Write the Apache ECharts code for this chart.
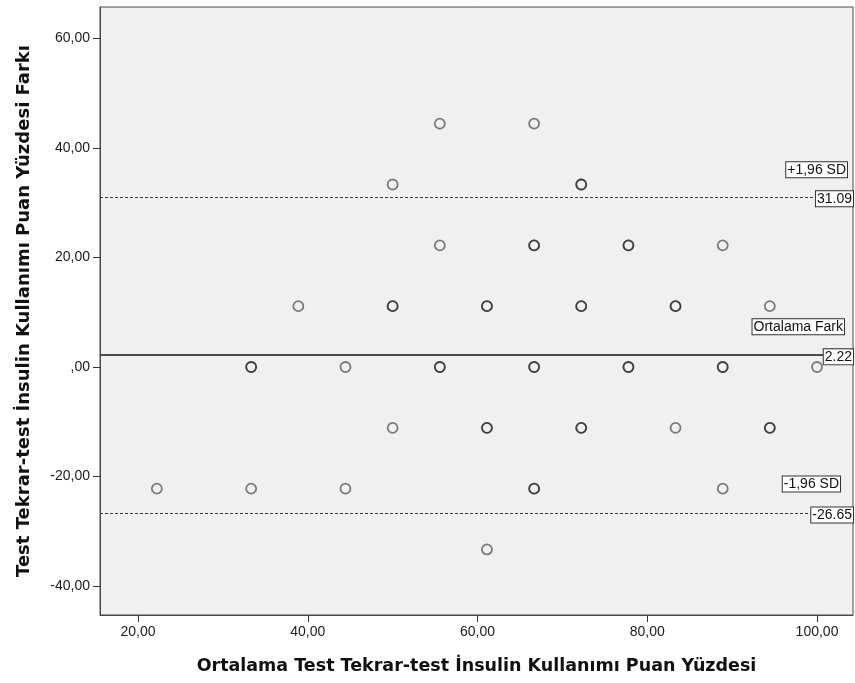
<!DOCTYPE html>
<html>
<head>
<meta charset="utf-8">
<script src="https://cdn.jsdelivr.net/npm/echarts@6/dist/echarts.min.js"></script>
<style>
html,body{margin:0;padding:0;background:#fff;}
#c{width:855px;height:683px;}
</style>
</head>
<body>
<div id="c"></div>
<script>
// Ortalama (x) and Fark (y) values; points drawn twice are the darker (overlapping) ones
const meanVals = [55.56, 66.67,
  50.00, 72.22, 72.22,
  55.56, 66.67, 66.67, 77.78, 77.78, 88.89,
  38.89, 50.00, 50.00, 61.11, 61.11, 72.22, 72.22, 83.33, 83.33, 94.44,
  33.33, 33.33, 44.44, 55.56, 55.56, 66.67, 66.67, 77.78, 77.78, 88.89, 88.89, 100.00,
  50.00, 61.11, 61.11, 72.22, 72.22, 83.33, 94.44, 94.44,
  22.22, 33.33, 44.44, 66.67, 66.67, 88.89,
  61.11];
const diffVals = [44.44, 44.44,
  33.33, 33.33, 33.33,
  22.22, 22.22, 22.22, 22.22, 22.22, 22.22,
  11.11, 11.11, 11.11, 11.11, 11.11, 11.11, 11.11, 11.11, 11.11, 11.11,
  0, 0, 0, 0, 0, 0, 0, 0, 0, 0, 0, 0,
  -11.11, -11.11, -11.11, -11.11, -11.11, -11.11, -11.11, -11.11,
  -22.22, -22.22, -22.22, -22.22, -22.22, -22.22,
  -33.33];
const xTicks = [20, 40, 60, 80, 100];
const yTicks = [-40, -20, 0, 20, 40, 60];
const meanDiff = 2.22;
const upperLoA = 31.09;
const lowerLoA = -26.65;
const lineNames = ['+1,96 SD', 'Ortalama Fark', '-1,96 SD'];
const lineValueTexts = ['31.09', '2.22', '-26.65'];

const fmt = v => v === 0 ? ',00' : v.toFixed(2).replace('.', ',');
const pts = meanVals.map((x, i) => [x, diffVals[i]]);

const chart = echarts.init(document.getElementById('c'), null, {renderer: 'canvas'});
const tickFont = {fontFamily: 'Liberation Sans, Arial, sans-serif', fontSize: 14, color: '#1a1a1a'};
chart.setOption({
  animation: false,
  backgroundColor: '#ffffff',
  grid: {left: 100, right: 2, top: 7, bottom: 68, show: true,
         backgroundColor: '#f0f0f0', borderColor: '#4a4a4a', borderWidth: 1},
  xAxis: {
    type: 'value', min: 15.52, max: 104.24,
    name: 'Ortalama Test Tekrar-test İnsulin Kullanımı Puan Yüzdesi',
    nameLocation: 'middle', nameGap: 42,
    nameTextStyle: {fontFamily: 'DejaVu Sans', fontWeight: 'bold', fontSize: 17.5, color: '#111'},
    splitLine: {show: false},
    axisLine: {show: true, onZero: false, lineStyle: {color: '#4a4a4a'}},
    axisTick: {show: true, customValues: xTicks, length: 7, lineStyle: {color: '#333'}},
    axisLabel: Object.assign({customValues: xTicks, formatter: fmt, margin: 10}, tickFont)
  },
  yAxis: {
    type: 'value', min: -45.3, max: 65.75,
    name: 'Test Tekrar-test İnsulin Kullanımı Puan Yüzdesi Farkı',
    nameLocation: 'middle', nameGap: 67,
    nameTextStyle: {fontFamily: 'DejaVu Sans', fontWeight: 'bold', fontSize: 18, color: '#111'},
    splitLine: {show: false},
    axisLine: {show: true, onZero: false, lineStyle: {color: '#4a4a4a'}},
    axisTick: {show: true, customValues: yTicks, length: 7, lineStyle: {color: '#333'}},
    axisLabel: Object.assign({customValues: yTicks, formatter: fmt, margin: 10}, tickFont)
  },
  series: [{
    type: 'scatter',
    data: pts,
    symbol: 'circle',
    symbolSize: 10,
    itemStyle: {color: 'rgba(0,0,0,0)', borderColor: 'rgba(5,5,5,0.62)', borderWidth: 1.8},
    emphasis: {disabled: true},
    markLine: {
      silent: true, symbol: 'none', label: {show: false},
      data: [
        {yAxis: meanDiff, lineStyle: {color: '#4a4a4a', width: 2.2, type: 'solid'}},
        {yAxis: upperLoA, lineStyle: {color: '#3a3a3a', width: 1.2, type: [3, 2]}},
        {yAxis: lowerLoA, lineStyle: {color: '#3a3a3a', width: 1.2, type: [3, 2]}}
      ]
    }
  }]
});

const lineVals = [upperLoA, meanDiff, lowerLoA];
const nameRight = [847, 844, 840];
const nameOffset = [27, 28, 29];
const boxStyle = {
  fontFamily: 'Liberation Sans, Arial, sans-serif', fontSize: 14, fill: '#111',
  backgroundColor: '#fff', borderColor: '#333', borderWidth: 1, padding: [1, 1, 0, 1],
  align: 'right', verticalAlign: 'middle'
};
const graphics = [];
lineVals.forEach((v, i) => {
  const py = chart.convertToPixel({yAxisIndex: 0}, v);
  graphics.push({type: 'text', x: nameRight[i], y: py - nameOffset[i], z: 100,
    style: Object.assign({text: lineNames[i]}, boxStyle)});
  graphics.push({type: 'text', x: 853, y: py + 2, z: 100,
    style: Object.assign({text: lineValueTexts[i]}, boxStyle)});
});
chart.setOption({graphic: graphics});
</script>
</body>
</html>
